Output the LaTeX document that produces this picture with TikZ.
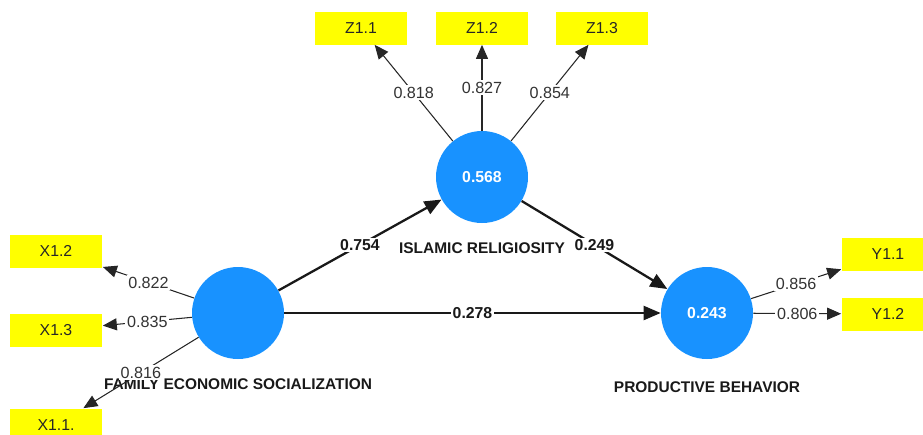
\documentclass[tikz,border=0pt]{standalone}
\usepackage{fontspec}
\setmainfont{Liberation Sans}
\usetikzlibrary{positioning, arrows.meta}
\definecolor{latblue}{RGB}{24,146,255}
\definecolor{indyellow}{RGB}{255,255,0}
\tikzset{
  node distance=0.27cm,
  lat/.style={
      circle,
      fill=latblue,
      minimum size=1.84cm,
      inner sep=0pt,
      text=white,
      font=\bfseries\fontsize{9}{10}\selectfont
    },
  ind/.style={
      rectangle,
      fill=indyellow,
      minimum width=1.86cm,
      minimum height=0.66cm,
      inner sep=0pt,
      text=black!85,
      font=\fontsize{9}{10}\selectfont
    },
  title/.style={
      font=\bfseries\fontsize{8.8}{10}\selectfont,
      text=black!90
    },
  load/.style={
      -{Triangle[length=0.28cm,width=0.24cm]},
      line width=0.6pt,
      black!85
    },
  rel/.style={
      -{Triangle[length=0.34cm,width=0.28cm]},
      line width=1.3pt,
      black!90
    },
  lval/.style={
      fill=white,
      inner sep=1pt,
      text=black!80,
      font=\fontsize{9.2}{10}\selectfont
    },
  rval/.style={
      fill=white,
      inner sep=1pt,
      text=black!90,
      font=\bfseries\fontsize{9}{10}\selectfont
    }
}

\begin{document}
\begin{tikzpicture}[x=0.02cm, y=-0.02cm]
  \useasboundingbox (0,0) rectangle (923,434);
  % latent variables
  \node[lat] (fes) at (238,313) {};
  \node[lat] (ir) at (482,177) {0.568};
  \node[lat] (pb) at (707,313) {0.243};
  \node[title, below=of fes] (fes-t) {FAMILY ECONOMIC SOCIALIZATION};
  \node[title, below=of ir] (ir-t) {ISLAMIC RELIGIOSITY};
  \node[title, below=0.32cm of pb] (pb-t) {PRODUCTIVE BEHAVIOR};
  % indicators
  \node[ind] (z11) at (361,28) {Z1.1};
  \node[ind] (z12) at (482,28) {Z1.2};
  \node[ind] (z13) at (602,28) {Z1.3};
  \node[ind] (x12) at (56,251) {X1.2};
  \node[ind] (x13) at (56,330) {X1.3};
  \node[ind] (x11) at (56,425) {X1.1.};
  \node[ind] (y11) at (888,254) {Y1.1};
  \node[ind] (y12) at (888,314) {Y1.2};
  % loadings
  \draw[load] (fes) -- node[lval] {0.822} (x12);
  \draw[load] (fes) -- node[lval] {0.835} (x13);
  \draw[load] (fes) -- node[lval] {0.816} (x11);
  \draw[load] (ir) -- node[lval] {0.818} (z11);
  \draw[load] (ir) -- node[lval] {0.827} (z12);
  \draw[load] (ir) -- node[lval] {0.854} (z13);
  \draw[load] (pb) -- node[lval] {0.856} (y11);
  \draw[load] (pb) -- node[lval] {0.806} (y12);
  % paths
  \draw[rel] (fes) -- node[rval] {0.754} (ir);
  \draw[rel] (ir) -- node[rval] {0.249} (pb);
  \draw[rel] (fes) -- node[rval] {0.278} (pb);
\end{tikzpicture}
\end{document}
